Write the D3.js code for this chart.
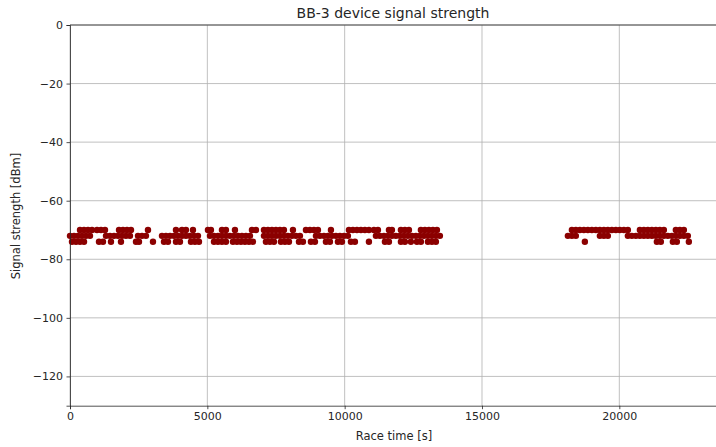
<!DOCTYPE html>
<html><head><meta charset="utf-8">
<script src="https://cdn.jsdelivr.net/npm/d3@7"></script>
<style>body{margin:0;background:#fff;} svg{display:block;font-family:"DejaVu Sans",sans-serif;}</style>
</head><body>
<script>
// Race time [s] of samples at each signal level [dBm]
const levels = [-70, -72, -74];
const time70 = [364,510,655,801,983,1128,1274,1784,1929,2075,2220,2839,3858,4077,4222,4477,5023,5132,5533,5678,6006,6625,6770,7062,7207,7353,7498,7644,7790,8117,8590,8736,8882,9027,9500,10156,10301,10447,10592,10738,10884,11066,11211,11612,11721,12048,12194,12340,12776,12922,13068,13213,13359,
  18273,18418,18564,18710,18855,19001,19146,19292,19438,19583,19729,19874,20020,20166,20311,20748,20894,21039,21185,21330,21476,21622,22058,22204,22350];
const time72 = [0,146,291,437,582,728,1310,1456,1602,1747,1893,2038,2184,2475,2621,2766,3349,3494,3640,3786,3931,4077,4222,4368,4514,4659,5096,5242,5387,5533,5678,5824,5970,6115,6261,6406,6552,7062,7207,7353,7498,7644,7790,7935,8081,8226,8372,8954,9100,9246,9391,9537,9682,9828,9974,10119,11138,11284,11430,11575,11721,11866,12012,12158,12303,12449,12594,12740,12886,13031,13177,13322,13468,
  18127,18273,18418,19292,19438,19583,20311,20457,20602,20748,20894,21039,21185,21330,21476,21622,21767,21913,22058,22204,22350,22495];
const time74 = [73,218,364,510,1056,1201,1492,1856,2402,2512,3021,3422,3567,3858,4004,4404,4550,4696,5242,5387,5533,5678,5933,6079,6224,6370,6516,6661,7134,7280,7426,7680,7826,7972,8336,8481,8772,8918,9318,9464,9755,9901,10228,10374,10884,11466,11612,12048,12194,12412,12631,12776,13031,13177,13322,
  18746,21367,21512,21949,22095,22532];
const xTicks = [0,5000,10000,15000,20000];
const yTicks = [0,-20,-40,-60,-80,-100,-120];

const series = [time70, time72, time74];
const points = [];
series.forEach((arr,i)=>arr.forEach(t=>points.push({t, s: levels[i]})));

const W=716,H=447;
const svg=d3.select("body").append("svg").attr("width",W).attr("height",H);
const x=d3.scaleLinear().domain([0,23520]).range([70,716]);
const y=d3.scaleLinear().domain([-130,0]).range([405.7,25]);

// grid
svg.append("g").selectAll("line").data(xTicks).join("line")
  .attr("x1",d=>x(d)).attr("x2",d=>x(d)).attr("y1",25).attr("y2",405.7)
  .attr("stroke","#b0b0b0").attr("stroke-width",0.8);
svg.append("g").selectAll("line").data(yTicks).join("line")
  .attr("x1",70).attr("x2",716).attr("y1",d=>y(d)).attr("y2",d=>y(d))
  .attr("stroke","#b0b0b0").attr("stroke-width",0.8);

// points
svg.append("g").selectAll("circle").data(points).join("circle")
  .attr("cx",d=>x(d.t)).attr("cy",d=>y(d.s)).attr("r",3.2)
  .attr("fill","#8b0000");

const fmt = d => d<0 ? "\u2212"+Math.abs(d) : String(d);
const gx=svg.append("g").attr("transform","translate(0,405.7)")
  .call(d3.axisBottom(x).tickValues(xTicks).tickSize(3.5).tickPadding(3.5).tickFormat(d3.format("d")));
const gy=svg.append("g").attr("transform","translate(70,0)")
  .call(d3.axisLeft(y).tickValues(yTicks).tickSize(3.5).tickPadding(3.5).tickFormat(fmt));
[gx,gy].forEach(g=>{
  g.selectAll("text").attr("font-size",11).attr("fill","#262626").attr("font-family","DejaVu Sans");
  g.selectAll(".tick line").attr("stroke","#262626").attr("stroke-width",0.8);
  g.select(".domain").attr("stroke","#262626").attr("stroke-width",0.8);
});
// top spine
svg.append("line").attr("x1",70).attr("x2",716).attr("y1",25).attr("y2",25).attr("stroke","#262626").attr("stroke-width",0.8);

svg.append("text").attr("x",393).attr("y",18).attr("text-anchor","middle")
  .attr("font-size",14).attr("fill","#262626").text("BB-3 device signal strength");
svg.append("text").attr("x",394).attr("y",440).attr("text-anchor","middle")
  .attr("font-size",11.5).attr("fill","#262626").text("Race time [s]");
svg.append("text").attr("transform","translate(20,216) rotate(-90)").attr("text-anchor","middle")
  .attr("font-size",11.5).attr("fill","#262626").text("Signal strength [dBm]");
</script>
</body></html>
